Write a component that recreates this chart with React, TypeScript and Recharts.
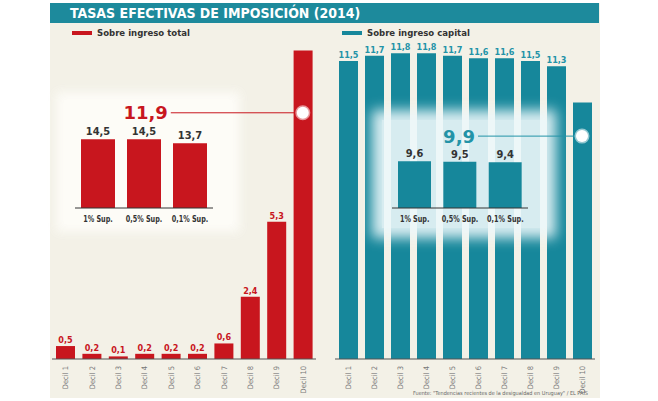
import { Bar, BarChart, LabelList, ReferenceDot, ReferenceLine, XAxis, YAxis } from 'recharts'

const deciles = ['Decil 1', 'Decil 2', 'Decil 3', 'Decil 4', 'Decil 5', 'Decil 6', 'Decil 7', 'Decil 8', 'Decil 9', 'Decil 10']
const totalRates = [0.5, 0.2, 0.1, 0.2, 0.2, 0.2, 0.6, 2.4, 5.3, 11.9]
const capitalRates = [11.5, 11.7, 11.8, 11.8, 11.7, 11.6, 11.6, 11.5, 11.3, 9.9]
const topGroups = ['1% Sup.', '0,5% Sup.', '0,1% Sup.']
const topTotalRates = [14.5, 14.5, 13.7]
const topCapitalRates = [9.6, 9.5, 9.4]

// where the callout dot sits on the Decil 10 bar (value units)
const totalCalloutAt = 9.5
const capitalCalloutAt = 8.6

const RED = '#c8161e'
const TEAL = '#16879b'
const TEAL_TEXT = '#2393a7'
const BG = '#f3f1e7'
const FONT = '"DejaVu Sans Condensed", "Liberation Sans", sans-serif'

const fmt = (v: number) => String(v).replace('.', ',')

const decilData = (values: number[]) =>
  deciles.map((d, i) => ({
    decil: d,
    value: values[i],
    // last decile is called out separately
    label: i === deciles.length - 1 ? '' : fmt(values[i]),
  }))

const groupData = (values: number[]) => topGroups.map((g, i) => ({ group: g, value: values[i], label: fmt(values[i]) }))

function DecilTick({ x, y, payload }: any) {
  const tx = x + 3
  const ty = y - 1
  return (
    <text
      x={tx}
      y={ty}
      transform={`rotate(-90 ${tx} ${ty})`}
      textAnchor="end"
      fontSize={7.5}
      fill="#777"
      fontFamily={FONT}
    >
      {payload.value}
    </text>
  )
}

function GroupTick({ x, y, payload }: any) {
  return (
    <text
      transform={`translate(${x} ${y + 6}) scale(0.8 1)`}
      textAnchor="middle"
      fontSize={9}
      fontWeight={700}
      fill="#333"
      fontFamily={FONT}
    >
      {payload.value}
    </text>
  )
}

type Margin = { top: number; right: number; bottom: number; left: number }

function DecilChart({
  values,
  color,
  labelColor,
  calloutAt,
  calloutFrom,
  left,
  width,
  margin,
  layer,
}: {
  values: number[]
  color: string
  labelColor: string
  calloutAt: number
  calloutFrom: string
  left: number
  width: number
  margin: Margin
  layer: 'bars' | 'callout'
}) {
  const last = deciles[deciles.length - 1]
  const bars = layer === 'bars'
  return (
    <div style={{ position: 'absolute', left, top: 0 }}>
      <BarChart width={width} height={401} data={decilData(values)} margin={margin}>
        <XAxis
          dataKey="decil"
          height={42}
          interval={0}
          tickLine={false}
          axisLine={bars ? { stroke: '#555', strokeWidth: 1.2 } : false}
          tick={bars ? <DecilTick /> : false}
        />
        <YAxis hide domain={[0, 12]} allowDataOverflow />
        <Bar dataKey="value" fill={color} fillOpacity={bars ? 1 : 0} barSize={19} isAnimationActive={false}>
          {bars && (
            <LabelList dataKey="label" position="top" offset={3} fill={labelColor} fontSize={9} fontWeight={700} fontFamily={FONT} />
          )}
        </Bar>
        {!bars && (
          <ReferenceLine
            segment={[
              { x: calloutFrom, y: calloutAt },
              { x: last, y: calloutAt },
            ]}
            stroke={labelColor}
            strokeWidth={1}
          />
        )}
        {!bars && (
          <ReferenceDot
            x={calloutFrom}
            y={calloutAt}
            r={0}
            stroke="none"
            label={{
              value: fmt(values[values.length - 1]),
              position: 'left',
              offset: 3,
              fill: labelColor,
              fontSize: 18,
              fontWeight: 700,
              fontFamily: '"DejaVu Sans", sans-serif',
            }}
          />
        )}
        {!bars && <ReferenceDot x={last} y={calloutAt} r={6} fill="#fff" stroke="rgba(255,255,255,0.55)" strokeWidth={3} />}
      </BarChart>
    </div>
  )
}

function GroupChart({
  values,
  color,
  left,
  top,
  width,
  height,
  barSize,
  margin,
}: {
  values: number[]
  color: string
  left: number
  top: number
  width: number
  height: number
  barSize: number
  margin: Margin
}) {
  return (
    <div style={{ position: 'absolute', left, top }}>
      <BarChart width={width} height={height} data={groupData(values)} margin={margin}>
        <XAxis
          dataKey="group"
          height={22}
          interval={0}
          tickLine={false}
          axisLine={{ stroke: '#333', strokeWidth: 1 }}
          tick={<GroupTick />}
        />
        <YAxis hide domain={[0, 15]} />
        <Bar dataKey="value" fill={color} barSize={barSize} isAnimationActive={false}>
          <LabelList dataKey="label" position="top" offset={4} fill="#333" fontSize={11} fontWeight={700} fontFamily={FONT} />
        </Bar>
      </BarChart>
    </div>
  )
}

function LegendItem({ left, color, text }: { left: number; color: string; text: string }) {
  return (
    <div style={{ position: 'absolute', left, top: 27, display: 'flex', alignItems: 'center', gap: 5 }}>
      <div style={{ width: 20, height: 4, background: color }} />
      <span style={{ fontSize: 9.5, fontWeight: 700, color: '#333', fontFamily: FONT }}>{text}</span>
    </div>
  )
}

export default function App() {
  const totalProps = {
    values: totalRates,
    color: RED,
    labelColor: RED,
    calloutAt: totalCalloutAt,
    calloutFrom: 'Decil 5',
    left: 0,
    width: 330,
    margin: { top: 48, right: 14, bottom: 0, left: 52 },
  }
  const capitalProps = {
    values: capitalRates,
    color: TEAL,
    labelColor: TEAL_TEXT,
    calloutAt: capitalCalloutAt,
    calloutFrom: 'Decil 6',
    left: 330,
    width: 328,
    margin: { top: 48, right: 63, bottom: 0, left: 5 },
  }
  return (
    <div style={{ position: 'absolute', left: 0, top: 0, width: 658, height: 401, background: '#fff', overflow: 'hidden', fontFamily: FONT }}>
      <div style={{ position: 'absolute', left: 50, top: 3, width: 550, height: 395, background: BG }} />
      <div
        style={{
          position: 'absolute',
          left: 50,
          top: 3,
          width: 549,
          height: 20,
          background: '#1d8a9c',
          color: '#fff',
          fontSize: 14,
          fontWeight: 700,
          lineHeight: '20px',
          paddingLeft: 20,
          boxSizing: 'border-box',
          whiteSpace: 'nowrap',
        }}
      >
        TASAS EFECTIVAS DE IMPOSICIÓN (2014)
      </div>
      <LegendItem left={72} color={RED} text="Sobre ingreso total" />
      <LegendItem left={342} color={TEAL} text="Sobre ingreso capital" />

      <DecilChart {...totalProps} layer="bars" />
      <DecilChart {...capitalProps} layer="bars" />

      {/* inset panels */}
      <div
        style={{
          position: 'absolute',
          left: 64,
          top: 100,
          width: 168,
          height: 124,
          background: 'rgba(253,252,248,0.95)',
          boxShadow: '0 0 10px 8px rgba(253,252,248,0.95)',
        }}
      />
      <div
        style={{
          position: 'absolute',
          left: 382,
          top: 120,
          width: 164,
          height: 108,
          background: 'rgba(236,247,249,0.9)',
          boxShadow: '0 0 12px 10px rgba(236,247,249,0.9)',
        }}
      />
      <GroupChart
        values={topTotalRates}
        color={RED}
        left={55}
        top={100}
        width={180}
        height={130}
        barSize={34}
        margin={{ top: 37, right: 22, bottom: 0, left: 20 }}
      />
      <GroupChart
        values={topCapitalRates}
        color={TEAL}
        left={372}
        top={100}
        width={184}
        height={130}
        barSize={33}
        margin={{ top: 35, right: 28, bottom: 0, left: 20 }}
      />

      <DecilChart {...totalProps} layer="callout" />
      <DecilChart {...capitalProps} layer="callout" />

      <div style={{ position: 'absolute', right: 70, top: 390, fontSize: 5.5, color: '#666', whiteSpace: 'nowrap' }}>
        Fuente: "Tendencias recientes de la desigualdad en Uruguay" / EL PAÍS
      </div>
    </div>
  )
}
